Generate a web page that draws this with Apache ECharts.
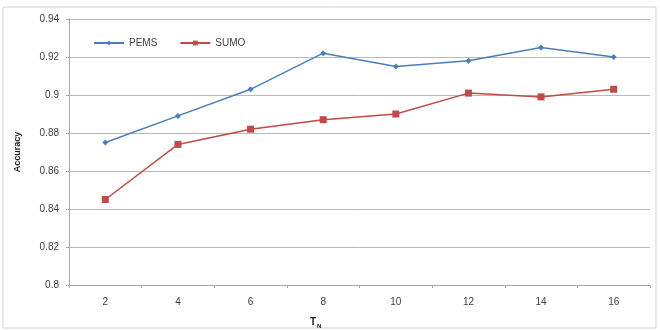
<!DOCTYPE html>
<html><head><meta charset="utf-8">
<script src="https://cdn.jsdelivr.net/npm/echarts@6/dist/echarts.min.js"></script>
<style>html,body{margin:0;padding:0;background:#fff}#c{width:660px;height:330px}</style>
</head><body><div id="c"></div>
<script>
const categories = ['2','4','6','8','10','12','14','16'];
const pems = [0.875,0.889,0.903,0.922,0.915,0.918,0.925,0.920];
const sumo = [0.845,0.874,0.882,0.887,0.890,0.901,0.899,0.903];
const yTicks = [0.8,0.82,0.84,0.86,0.88,0.9,0.92,0.94];

const chart = echarts.init(document.getElementById('c'));
chart.setOption({
  animation:false,
  backgroundColor:'#fff',
  textStyle:{fontFamily:'Liberation Sans, Arial, sans-serif'},
  graphic:[
    {type:'rect',shape:{x:3,y:7,width:653,height:321},style:{fill:'none',stroke:'#d0d0d0',lineWidth:1},silent:true,z:-1},
    {type:'text',left:18-5,top:152,rotation:Math.PI/2,style:{text:'Accuracy',font:'bold 9px Liberation Sans, Arial, sans-serif',fill:'#202020',align:'center',verticalAlign:'middle'},x:18,y:152,left:null,top:null},
    {type:'text',x:310,y:322,style:{text:'T',font:'bold 10px Liberation Sans, Arial, sans-serif',fill:'#202020',align:'left',verticalAlign:'middle'}},
    {type:'text',x:317,y:326,style:{text:'N',font:'bold 6px Liberation Sans, Arial, sans-serif',fill:'#202020',align:'left',verticalAlign:'middle'}}
  ],
  legend:{
    left:93, top:38, padding:0, itemWidth:30, itemHeight:6, itemGap:22,
    textStyle:{fontSize:10,color:'#404040'},
    data:['PEMS','SUMO']
  },
  grid:{left:69,right:10,top:19,bottom:45,containLabel:false},
  xAxis:{
    type:'category', data:categories, boundaryGap:true,
    axisLine:{lineStyle:{color:'#a6a6a6',width:1}},
    axisTick:{show:true,length:3,lineStyle:{color:'#a6a6a6'}},
    axisLabel:{color:'#404040',fontSize:10,margin:12},
    splitLine:{show:false}
  },
  yAxis:{
    type:'value', min:0.8, max:0.94, interval:0.02,
    axisLine:{show:true,lineStyle:{color:'#a6a6a6'}},
    axisTick:{show:true,length:3,lineStyle:{color:'#a6a6a6'}},
    axisLabel:{color:'#404040',fontSize:10,margin:10,
      formatter:function(v){const t=yTicks.find(x=>Math.abs(x-v)<1e-6);return String(t!==undefined?t:+v.toFixed(2));}},
    splitLine:{lineStyle:{color:'#b8b8b8',width:1}}
  },
  series:[
    {name:'PEMS',type:'line',data:pems,symbol:'diamond',symbolSize:6,
     itemStyle:{color:'#4a7ebb'},lineStyle:{color:'#4a7ebb',width:1.5}},
    {name:'SUMO',type:'line',data:sumo,symbol:'rect',symbolSize:7,
     itemStyle:{color:'#be4b48'},lineStyle:{color:'#be4b48',width:1.5}}
  ]
});
</script></body></html>
